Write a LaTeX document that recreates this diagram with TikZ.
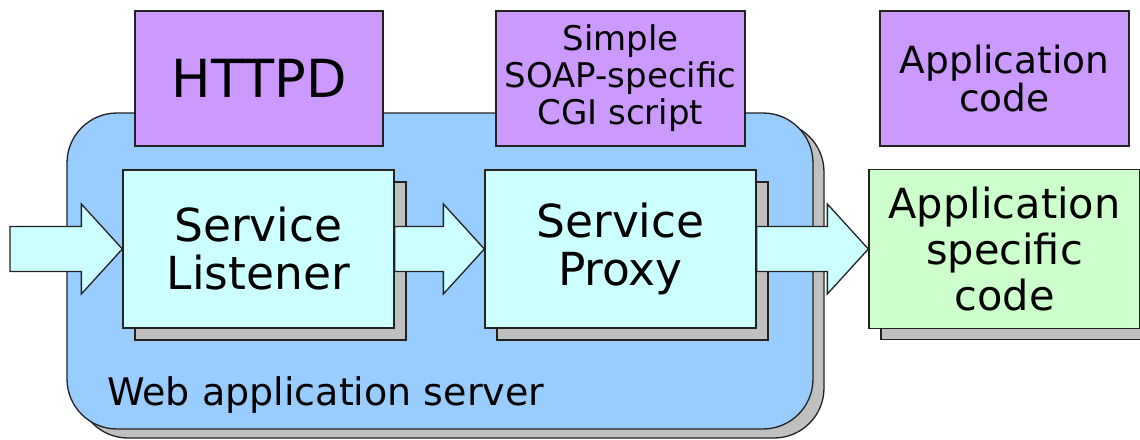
\documentclass[tikz,border=0pt]{standalone}
\usepackage{fontspec}
\setmainfont{DejaVu Sans}
\usetikzlibrary{calc,shadows}
\definecolor{srvblue}{HTML}{99CCFF}
\definecolor{boxcyan}{HTML}{CCFFFF}
\definecolor{boxpurple}{HTML}{CC99FF}
\definecolor{boxgreen}{HTML}{CCFFCC}
\definecolor{shadowgray}{HTML}{C0C0C0}
\definecolor{edge}{HTML}{222222}
\tikzset{
  outline/.style={draw=edge, line width=1.3pt},
  serverbox/.style={outline, fill=srvblue, rounded corners=50pt, minimum width=746pt, minimum height=316pt,
    drop shadow={shadow xshift=11pt, shadow yshift=-9pt, fill=shadowgray, draw=edge, line width=1.3pt, opacity=1}},
  topbox/.style={outline, fill=boxpurple, minimum height=135pt, align=center, inner sep=0pt},
  compbox/.style={outline, fill=boxcyan, minimum width=271pt, minimum height=158pt, align=center, inner sep=0pt,
    drop shadow={shadow xshift=12pt, shadow yshift=-12pt, fill=shadowgray, draw=edge, line width=1.3pt, opacity=1}},
  appbox/.style={outline, fill=boxgreen, minimum width=271pt, minimum height=159pt, align=center, inner sep=0pt,
    drop shadow={shadow xshift=12pt, shadow yshift=-11pt, fill=shadowgray, draw=edge, line width=1.3pt, opacity=1}},
  arrowst/.style={outline, fill=boxcyan, line join=miter},
}
\newcommand\blockarrow[2]{%
  \draw[arrowst] ($(#1|-#2)+(0,-22.5)$) -- ($(#2)+(-41,-22.5)$) -- ($(#2)+(-41,-45)$) -- (#2)
    -- ($(#2)+(-41,45)$) -- ($(#2)+(-41,22.5)$) -- ($(#1|-#2)+(0,22.5)$) -- cycle;}
\begin{document}
\begin{tikzpicture}[x=1pt,y=-1pt]
\useasboundingbox[fill=white] (0,0) rectangle (1140,439);
% web application server
\node[serverbox] (server) at (440,271) {};
\node[anchor=base west, inner sep=0pt, font=\fontsize{38}{44}\selectfont] (serverlbl) at (107,405) {Web application server};
% top boxes
\node[topbox, minimum width=248pt, font=\fontsize{52.5}{60}\selectfont] (httpd) at (259,78.5) {HTTPD};
\node[topbox, minimum width=249pt, font=\fontsize{34}{37}\selectfont] (cgi) at (620.5,78.5) {Simple\\SOAP-specific\\CGI script};
\node[topbox, minimum width=249pt, font=\fontsize{37.5}{38.5}\selectfont] (appcode) at (1004.5,78.5) {Application\\code};
% components
\node[compbox, font=\fontsize{45.5}{48}\selectfont] (listener) at (258.5,249) {Service\\Listener};
\node[compbox, font=\fontsize{45.5}{48}\selectfont] (proxy) at (620.5,249) {Service\\Proxy};
\node[appbox, font=\fontsize{41.5}{46}\selectfont] (appspec) at (1004.5,249) {Application\\specific\\code};
% arrows
\coordinate (in) at (10,248);
\blockarrow{in}{listener.west}
\blockarrow{listener.east}{proxy.west}
\blockarrow{proxy.east}{appspec.west}
\end{tikzpicture}
\end{document}
